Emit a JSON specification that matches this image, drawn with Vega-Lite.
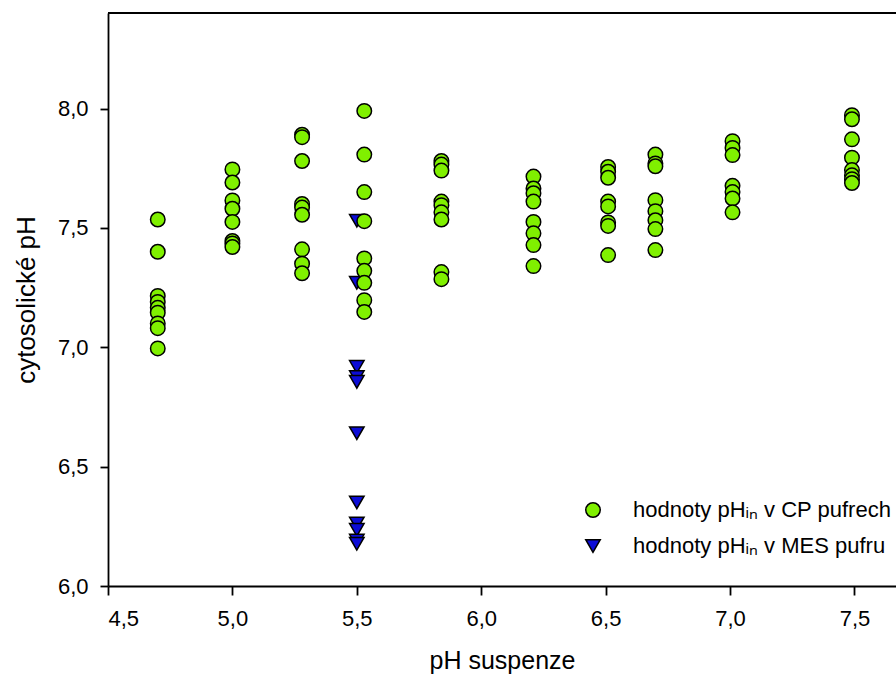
{
  "$schema": "https://vega.github.io/schema/vega-lite/v6.json",
  "width": 788,
  "height": 573,
  "autosize": {"type": "none"},
  "padding": {"left": 108, "top": 13, "right": 0, "bottom": 96},
  "background": "white",
  "config": {
    "view": {"stroke": null},
    "font": "Liberation Sans",
    "axis": {
      "grid": false,
      "domainColor": "black",
      "domainWidth": 1.8,
      "tickColor": "black",
      "tickWidth": 1.8,
      "labelColor": "black",
      "titleColor": "black",
      "labelFont": "Liberation Sans",
      "titleFont": "Liberation Sans",
      "titleFontWeight": "normal",
      "labelFontSize": 22
    },
    "legend": {
      "labelLimit": 0
    }
  },
  "layer": [
    {
      "data": {
        "values": [
          {"ph_suspenze": 5.5, "ph_in": 7.53, "pufr": "MES"},
          {"ph_suspenze": 5.5, "ph_in": 7.27, "pufr": "MES"},
          {"ph_suspenze": 5.5, "ph_in": 6.918, "pufr": "MES"},
          {"ph_suspenze": 5.5, "ph_in": 6.875, "pufr": "MES"},
          {"ph_suspenze": 5.5, "ph_in": 6.855, "pufr": "MES"},
          {"ph_suspenze": 5.5, "ph_in": 6.64, "pufr": "MES"},
          {"ph_suspenze": 5.5, "ph_in": 6.35, "pufr": "MES"},
          {"ph_suspenze": 5.5, "ph_in": 6.262, "pufr": "MES"},
          {"ph_suspenze": 5.5, "ph_in": 6.235, "pufr": "MES"},
          {"ph_suspenze": 5.5, "ph_in": 6.19, "pufr": "MES"},
          {"ph_suspenze": 5.5, "ph_in": 6.177, "pufr": "MES"},

          {"ph_suspenze": 4.7, "ph_in": 7.535, "pufr": "CP"},
          {"ph_suspenze": 4.7, "ph_in": 7.4, "pufr": "CP"},
          {"ph_suspenze": 4.7, "ph_in": 7.215, "pufr": "CP"},
          {"ph_suspenze": 4.7, "ph_in": 7.19, "pufr": "CP"},
          {"ph_suspenze": 4.7, "ph_in": 7.165, "pufr": "CP"},
          {"ph_suspenze": 4.7, "ph_in": 7.145, "pufr": "CP"},
          {"ph_suspenze": 4.7, "ph_in": 7.1, "pufr": "CP"},
          {"ph_suspenze": 4.7, "ph_in": 7.08, "pufr": "CP"},
          {"ph_suspenze": 4.7, "ph_in": 6.995, "pufr": "CP"},

          {"ph_suspenze": 5.0, "ph_in": 7.745, "pufr": "CP"},
          {"ph_suspenze": 5.0, "ph_in": 7.69, "pufr": "CP"},
          {"ph_suspenze": 5.0, "ph_in": 7.615, "pufr": "CP"},
          {"ph_suspenze": 5.0, "ph_in": 7.58, "pufr": "CP"},
          {"ph_suspenze": 5.0, "ph_in": 7.525, "pufr": "CP"},
          {"ph_suspenze": 5.0, "ph_in": 7.445, "pufr": "CP"},
          {"ph_suspenze": 5.0, "ph_in": 7.435, "pufr": "CP"},
          {"ph_suspenze": 5.0, "ph_in": 7.42, "pufr": "CP"},

          {"ph_suspenze": 5.28, "ph_in": 7.89, "pufr": "CP"},
          {"ph_suspenze": 5.28, "ph_in": 7.88, "pufr": "CP"},
          {"ph_suspenze": 5.28, "ph_in": 7.78, "pufr": "CP"},
          {"ph_suspenze": 5.28, "ph_in": 7.6, "pufr": "CP"},
          {"ph_suspenze": 5.28, "ph_in": 7.585, "pufr": "CP"},
          {"ph_suspenze": 5.28, "ph_in": 7.555, "pufr": "CP"},
          {"ph_suspenze": 5.28, "ph_in": 7.41, "pufr": "CP"},
          {"ph_suspenze": 5.28, "ph_in": 7.35, "pufr": "CP"},
          {"ph_suspenze": 5.28, "ph_in": 7.31, "pufr": "CP"},

          {"ph_suspenze": 5.53, "ph_in": 7.99, "pufr": "CP"},
          {"ph_suspenze": 5.53, "ph_in": 7.807, "pufr": "CP"},
          {"ph_suspenze": 5.53, "ph_in": 7.65, "pufr": "CP"},
          {"ph_suspenze": 5.53, "ph_in": 7.528, "pufr": "CP"},
          {"ph_suspenze": 5.53, "ph_in": 7.372, "pufr": "CP"},
          {"ph_suspenze": 5.53, "ph_in": 7.32, "pufr": "CP"},
          {"ph_suspenze": 5.53, "ph_in": 7.27, "pufr": "CP"},
          {"ph_suspenze": 5.53, "ph_in": 7.197, "pufr": "CP"},
          {"ph_suspenze": 5.53, "ph_in": 7.148, "pufr": "CP"},

          {"ph_suspenze": 5.84, "ph_in": 7.78, "pufr": "CP"},
          {"ph_suspenze": 5.84, "ph_in": 7.765, "pufr": "CP"},
          {"ph_suspenze": 5.84, "ph_in": 7.74, "pufr": "CP"},
          {"ph_suspenze": 5.84, "ph_in": 7.61, "pufr": "CP"},
          {"ph_suspenze": 5.84, "ph_in": 7.595, "pufr": "CP"},
          {"ph_suspenze": 5.84, "ph_in": 7.565, "pufr": "CP"},
          {"ph_suspenze": 5.84, "ph_in": 7.535, "pufr": "CP"},
          {"ph_suspenze": 5.84, "ph_in": 7.315, "pufr": "CP"},
          {"ph_suspenze": 5.84, "ph_in": 7.285, "pufr": "CP"},

          {"ph_suspenze": 6.21, "ph_in": 7.715, "pufr": "CP"},
          {"ph_suspenze": 6.21, "ph_in": 7.665, "pufr": "CP"},
          {"ph_suspenze": 6.21, "ph_in": 7.645, "pufr": "CP"},
          {"ph_suspenze": 6.21, "ph_in": 7.61, "pufr": "CP"},
          {"ph_suspenze": 6.21, "ph_in": 7.525, "pufr": "CP"},
          {"ph_suspenze": 6.21, "ph_in": 7.477, "pufr": "CP"},
          {"ph_suspenze": 6.21, "ph_in": 7.428, "pufr": "CP"},
          {"ph_suspenze": 6.21, "ph_in": 7.34, "pufr": "CP"},

          {"ph_suspenze": 6.51, "ph_in": 7.755, "pufr": "CP"},
          {"ph_suspenze": 6.51, "ph_in": 7.735, "pufr": "CP"},
          {"ph_suspenze": 6.51, "ph_in": 7.71, "pufr": "CP"},
          {"ph_suspenze": 6.51, "ph_in": 7.61, "pufr": "CP"},
          {"ph_suspenze": 6.51, "ph_in": 7.59, "pufr": "CP"},
          {"ph_suspenze": 6.51, "ph_in": 7.523, "pufr": "CP"},
          {"ph_suspenze": 6.51, "ph_in": 7.508, "pufr": "CP"},
          {"ph_suspenze": 6.51, "ph_in": 7.386, "pufr": "CP"},

          {"ph_suspenze": 6.7, "ph_in": 7.807, "pufr": "CP"},
          {"ph_suspenze": 6.7, "ph_in": 7.77, "pufr": "CP"},
          {"ph_suspenze": 6.7, "ph_in": 7.758, "pufr": "CP"},
          {"ph_suspenze": 6.7, "ph_in": 7.616, "pufr": "CP"},
          {"ph_suspenze": 6.7, "ph_in": 7.57, "pufr": "CP"},
          {"ph_suspenze": 6.7, "ph_in": 7.532, "pufr": "CP"},
          {"ph_suspenze": 6.7, "ph_in": 7.495, "pufr": "CP"},
          {"ph_suspenze": 6.7, "ph_in": 7.407, "pufr": "CP"},

          {"ph_suspenze": 7.01, "ph_in": 7.863, "pufr": "CP"},
          {"ph_suspenze": 7.01, "ph_in": 7.835, "pufr": "CP"},
          {"ph_suspenze": 7.01, "ph_in": 7.805, "pufr": "CP"},
          {"ph_suspenze": 7.01, "ph_in": 7.676, "pufr": "CP"},
          {"ph_suspenze": 7.01, "ph_in": 7.65, "pufr": "CP"},
          {"ph_suspenze": 7.01, "ph_in": 7.623, "pufr": "CP"},
          {"ph_suspenze": 7.01, "ph_in": 7.565, "pufr": "CP"},

          {"ph_suspenze": 7.49, "ph_in": 7.972, "pufr": "CP"},
          {"ph_suspenze": 7.49, "ph_in": 7.955, "pufr": "CP"},
          {"ph_suspenze": 7.49, "ph_in": 7.871, "pufr": "CP"},
          {"ph_suspenze": 7.49, "ph_in": 7.794, "pufr": "CP"},
          {"ph_suspenze": 7.49, "ph_in": 7.742, "pufr": "CP"},
          {"ph_suspenze": 7.49, "ph_in": 7.72, "pufr": "CP"},
          {"ph_suspenze": 7.49, "ph_in": 7.704, "pufr": "CP"},
          {"ph_suspenze": 7.49, "ph_in": 7.688, "pufr": "CP"}
        ]
      },
      "mark": {"type": "point", "filled": true, "opacity": 1, "stroke": "black", "strokeWidth": 1.5, "size": 210},
      "encoding": {
        "x": {
          "field": "ph_suspenze",
          "type": "quantitative",
          "scale": {"domain": [4.5, 7.667], "nice": false, "zero": false},
          "axis": {
            "values": [4.5, 5.0, 5.5, 6.0, 6.5, 7.0, 7.5],
            "labelExpr": "replace(format(datum.value, '.1f'), '.', ',')",
            "labelFontSize": 22,
            "tickSize": 9,
            "labelPadding": 13,
            "title": "pH suspenze",
            "titleFontSize": 25,
            "titlePadding": 19
          }
        },
        "y": {
          "field": "ph_in",
          "type": "quantitative",
          "scale": {"domain": [6.0, 8.4], "nice": false, "zero": false},
          "axis": {
            "values": [6.0, 6.5, 7.0, 7.5, 8.0],
            "labelExpr": "replace(format(datum.value, '.1f'), '.', ',')",
            "labelFontSize": 22,
            "tickSize": 8,
            "labelPadding": 12,
            "title": "cytosolické pH",
            "titleFontSize": 26,
            "titlePadding": 18
          }
        },
        "fill": {
          "field": "pufr",
          "type": "nominal",
          "scale": {"domain": ["CP", "MES"], "range": ["#80f000", "#0c0cd6"]},
          "legend": {
            "title": null,
            "orient": "none",
            "legendX": 474,
            "legendY": 486,
            "padding": 0,
            "labelFont": "Liberation Sans",
            "labelFontSize": 22,
            "labelColor": "black",
            "labelLimit": 0,
            "labelOffset": 29,
            "rowPadding": 14,
            "symbolSize": 210,
            "labelExpr": "datum.value == 'CP' ? 'hodnoty pHᵢₙ v CP pufrech' : 'hodnoty pHᵢₙ v MES pufru'",
            "encode": {
              "symbols": {"update": {"stroke": {"value": "black"}, "strokeWidth": {"value": 1.5}}}
            }
          }
        },
        "shape": {
          "field": "pufr",
          "type": "nominal",
          "scale": {"domain": ["CP", "MES"], "range": ["circle", "triangle-down"]},
          "legend": {
            "title": null,
            "orient": "none",
            "legendX": 474,
            "legendY": 486,
            "padding": 0,
            "labelFont": "Liberation Sans",
            "labelFontSize": 22,
            "labelColor": "black",
            "labelLimit": 0,
            "labelOffset": 29,
            "rowPadding": 14,
            "symbolSize": 210,
            "labelExpr": "datum.value == 'CP' ? 'hodnoty pHᵢₙ v CP pufrech' : 'hodnoty pHᵢₙ v MES pufru'",
            "encode": {
              "symbols": {"update": {"stroke": {"value": "black"}, "strokeWidth": {"value": 1.5}}}
            }
          }
        }
      }
    },
    {
      "data": {"values": [{}]},
      "mark": {"type": "rule", "color": "black", "strokeWidth": 1.8},
      "encoding": {"y": {"datum": 8.4, "type": "quantitative"}}
    }
  ]
}
